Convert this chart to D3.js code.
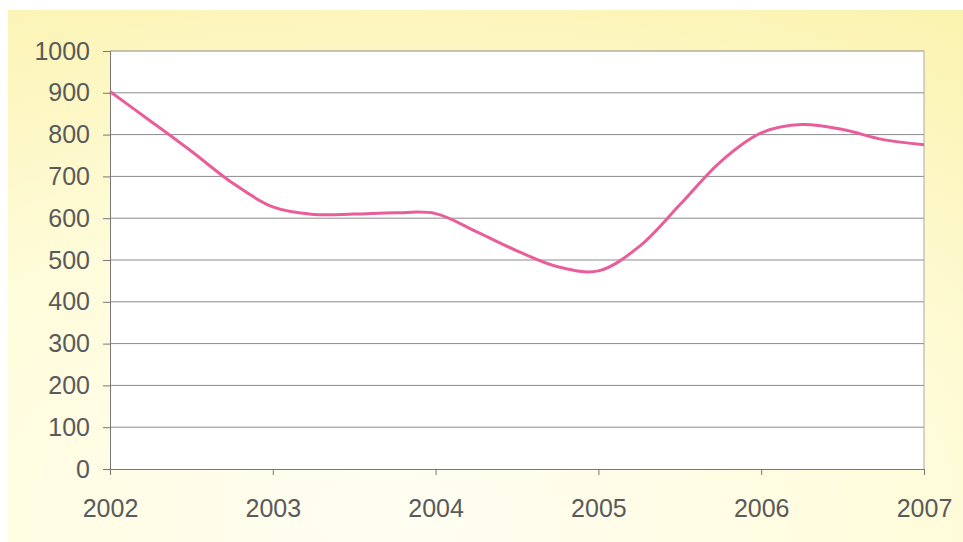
<!DOCTYPE html>
<html>
<head>
<meta charset="utf-8">
<script src="https://cdn.jsdelivr.net/npm/d3@7"></script>
<style>
  body { margin: 0; background: #fff; }
  svg { display: block; }
</style>
</head>
<body>
<div id="chart"></div>
<script>
// quarterly readings, 2002 Q1 .. 2007
var periods = [2002, 2002.25, 2002.5, 2002.75, 2003, 2003.25, 2003.5, 2003.75,
  2004, 2004.25, 2004.5, 2004.75, 2005, 2005.25, 2005.5, 2005.75,
  2006, 2006.25, 2006.5, 2006.75, 2007];
var values = [903, 832, 760, 685, 627, 609, 610, 613,
  611, 568, 522, 484, 474, 532, 632, 735,
  804, 824, 812, 788, 776];
var yearLabels = [2002, 2003, 2004, 2005, 2006, 2007];
var yTicks = [0, 100, 200, 300, 400, 500, 600, 700, 800, 900, 1000];

var W = 963, H = 542;
var margin = {top: 51, right: 39, bottom: 73, left: 110};

var svg = d3.select("#chart").append("svg")
  .attr("width", W)
  .attr("height", H);

// yellowish backdrop
var defs = svg.append("defs");
var grad = defs.append("radialGradient")
  .attr("id", "bg")
  .attr("cx", "0.4").attr("cy", "0.95").attr("r", "1.1");
grad.append("stop").attr("offset", "0%").attr("stop-color", "#fffef2");
grad.append("stop").attr("offset", "50%").attr("stop-color", "#fffcdc");
grad.append("stop").attr("offset", "100%").attr("stop-color", "#fbf3b0");

svg.append("rect")
  .attr("x", 8).attr("y", 10)
  .attr("width", W - 8).attr("height", H - 10)
  .attr("fill", "url(#bg)");

var x = d3.scaleLinear().domain([2002, 2007]).range([margin.left, W - margin.right]);
var y = d3.scaleLinear().domain([0, 1000]).range([H - margin.bottom, margin.top]);

svg.append("rect")
  .attr("x", x(2002)).attr("y", y(1000))
  .attr("width", x(2007) - x(2002)).attr("height", y(0) - y(1000))
  .attr("fill", "#fff");

// gridlines
svg.append("g")
  .selectAll("line")
  .data(yTicks.filter(function(d) { return d > 0; }))
  .enter().append("line")
  .attr("x1", x(2002)).attr("x2", x(2007))
  .attr("y1", function(d) { return y(d); })
  .attr("y2", function(d) { return y(d); })
  .attr("stroke", "#8a8a8a")
  .attr("stroke-width", 1);

// right border
svg.append("line")
  .attr("x1", x(2007)).attr("x2", x(2007))
  .attr("y1", y(1000)).attr("y2", y(0))
  .attr("stroke", "#a8a8a8");

var yAxis = svg.append("g")
  .attr("transform", "translate(" + x(2002) + ",0)")
  .call(d3.axisLeft(y).tickValues(yTicks).tickFormat(d3.format("d")).tickSize(7).tickPadding(13));

var xAxis = svg.append("g")
  .attr("transform", "translate(0," + y(0) + ")")
  .call(d3.axisBottom(x).tickValues(yearLabels).tickFormat(d3.format("d")).tickSize(6).tickPadding(24));

[yAxis, xAxis].forEach(function(a) {
  a.attr("font-family", "'Liberation Sans', Arial, sans-serif").attr("font-size", 25);
  a.select(".domain").attr("stroke", "#777");
  a.selectAll(".tick line").attr("stroke", "#777");
  a.selectAll(".tick text").attr("fill", "#5a5a5a");
});

var line = d3.line()
  .x(function(d, i) { return x(periods[i]); })
  .y(function(d) { return y(d); })
  .curve(d3.curveCatmullRom.alpha(0.5));

svg.append("path")
  .datum(values)
  .attr("fill", "none")
  .attr("stroke", "#ea5d9b")
  .attr("stroke-width", 3)
  .attr("d", line);
</script>
</body>
</html>
